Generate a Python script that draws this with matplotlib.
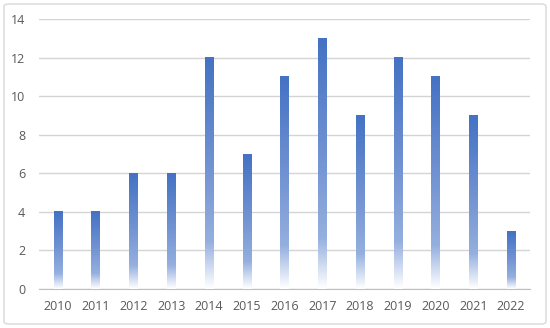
import numpy as np
import matplotlib.pyplot as plt
from matplotlib.colors import LinearSegmentedColormap
from matplotlib.patches import FancyBboxPatch

years = ["2010", "2011", "2012", "2013", "2014", "2015", "2016",
         "2017", "2018", "2019", "2020", "2021", "2022"]
counts = [4, 4, 6, 6, 12, 7, 11, 13, 9, 12, 11, 9, 3]

plt.rcParams['font.family'] = ['Open Sans', 'DejaVu Sans']

fig = plt.figure(figsize=(5.5, 3.28), dpi=100)
ax = fig.add_axes([39/550, 1 - 289/328, (530-39)/550, (289-19)/328])

# white -> blue gradient, the same for each bar: mostly blue, fades out near the bottom
cmap = LinearSegmentedColormap.from_list(
    "fade", [(0.0, "#ffffff"), (0.2, "#95b0df"), (0.5, "#7595d3"), (1.0, "#4472c4")])
grad = np.linspace(1, 0, 200).reshape(-1, 1)

w = 0.22
x = np.arange(len(years))
for xi, v in zip(x, counts):
    ax.imshow(grad, cmap=cmap, vmin=0, vmax=1, aspect='auto',
              extent=[xi - w/2, xi + w/2, 0, v], zorder=3, interpolation='bilinear')

ax.set_xlim(-0.5, len(years) - 0.5)
ax.set_ylim(0, 14)
ax.set_yticks(range(0, 15, 2))
ax.set_xticks(x)
ax.set_xticklabels(years)
ax.grid(axis='y', color='#d4d4d4', linewidth=1, zorder=0)
for s in ['top', 'right', 'left']:
    ax.spines[s].set_visible(False)
ax.spines['bottom'].set_color('#bfbfbf')
ax.tick_params(length=0, labelsize=9, colors='#595959', pad=8)
ax.tick_params(axis='y', pad=10)

# light border around the chart
border = FancyBboxPatch((4/550, 4/328), 542/550, 320/328, boxstyle="round,pad=0,rounding_size=0.008",
                        transform=fig.transFigure, fill=False, edgecolor='#d9d9d9', linewidth=1)
fig.patches.append(border)

fig.savefig("out.png", dpi=100)
